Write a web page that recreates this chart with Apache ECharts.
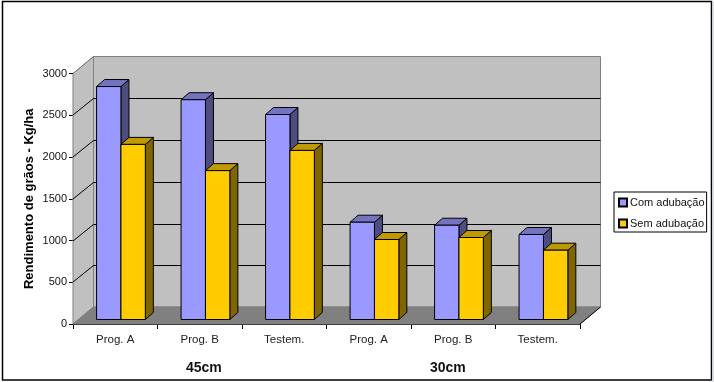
<!DOCTYPE html>
<html>
<head>
<meta charset="utf-8">
<style>html,body{margin:0;padding:0;background:#fff;overflow:hidden}#c{width:714px;height:382px}</style>
<script src="https://cdn.jsdelivr.net/npm/echarts@6/dist/echarts.min.js"></script>
</head>
<body>
<div id="c"></div>
<script>
const categories = ['Prog. A','Prog. B','Testem.','Prog. A','Prog. B','Testem.'];
const comAdubacao = [2790,2632,2455,1165,1129,1018];
const semAdubacao = [2097,1783,2025,958,982,830];
const yTicks = [0,500,1000,1500,2000,2500,3000];
const groupLabels = ['45cm','30cm'];
const seriesNames = ['Com adubação','Sem adubação'];
const yTitle = 'Rendimento de grãos - Kg/ha';

const FONT = '"Liberation Sans", Arial, sans-serif';
const WALL_DX = 20.5, WALL_DY = -17;      // depth of the 3D box
const BAR_DX = 8, BAR_DY = -7;            // depth of a bar
const BAR_SHIFT_X = 5.7, BAR_SHIFT_Y = -4.5;
const BAR_FRAC = 0.2885;

function wallItem(params, api) {
  if (params.dataIndex !== 0) return {type:'group',children:[]};
  const cs = params.coordSys;
  const x0 = cs.x, x1 = cs.x + cs.width;
  const y0 = api.coord([0, 0])[1], yTop = api.coord([0, yTicks[yTicks.length-1]])[1];
  const d = (x,y)=>[x+WALL_DX,y+WALL_DY];
  const wallStyle = {fill:'#c0c0c0',stroke:'#808080',lineWidth:1};
  const children = [
    {type:'polygon',shape:{points:[[x0,y0],[x0,yTop],d(x0,yTop),d(x0,y0)]},style:wallStyle},
    {type:'polygon',shape:{points:[d(x0,yTop),d(x1,yTop),d(x1,y0),d(x0,y0)]},style:wallStyle},
    {type:'polygon',shape:{points:[[x0,y0],d(x0,y0),d(x1,y0),[x1,y0]]},style:{fill:'#808080',stroke:'#808080',lineWidth:1}}
  ];
  yTicks.forEach(t=>{
    if (t===0 || t===yTicks[yTicks.length-1]) return;
    const y = Math.round(api.coord([0,t])[1]);
    children.push({type:'polyline',shape:{points:[[x0,y],[x0+WALL_DX,y+WALL_DY+0.5],[x1+WALL_DX,y+WALL_DY+0.5]]},
      style:{fill:null,stroke:'#000',lineWidth:1}});
  });
  children.push({type:'line',shape:{x1:x1,y1:y0,x2:x1+WALL_DX,y2:y0+WALL_DY},style:{stroke:'#000',lineWidth:1}});
  children.push({type:'line',shape:{x1:x0,y1:yTop,x2:x0+WALL_DX,y2:yTop+WALL_DY},style:{stroke:'#808080',lineWidth:1}});
  return {type:'group',children};
}

function barItem(side, front, top, dark) {
  return function(params, api) {
    const cat = api.value(0), val = api.value(1);
    const band = api.size([1,0])[0];
    const w = band*BAR_FRAC;
    const base = api.coord([cat,0]), tp = api.coord([cat,val]);
    const cx = base[0]+BAR_SHIFT_X;
    const xa = side===0 ? cx-w : cx, xb = xa+w;
    const yb = base[1]+BAR_SHIFT_Y, yt = tp[1]+BAR_SHIFT_Y;
    const line = {stroke:'#000',lineWidth:1,lineJoin:'round'};
    return {type:'group',children:[
      {type:'polygon',shape:{points:[[xb,yt],[xb+BAR_DX,yt+BAR_DY],[xb+BAR_DX,yb+BAR_DY],[xb,yb]]},style:Object.assign({fill:dark},line)},
      {type:'polygon',shape:{points:[[xa,yt],[xa+BAR_DX,yt+BAR_DY],[xb+BAR_DX,yt+BAR_DY],[xb,yt]]},style:Object.assign({fill:top},line)},
      {type:'rect',shape:{x:xa,y:yt,width:w,height:yb-yt},style:Object.assign({fill:front},line)}
    ]};
  };
}

const chart = echarts.init(document.getElementById('c'),null,{renderer:'canvas'});
chart.setOption({
  animation:false,
  backgroundColor:'#fff',
  grid:{left:73,top:73.5,width:507,height:250.5,containLabel:false},
  xAxis:{type:'category',data:categories,
    axisLine:{lineStyle:{color:'#000',width:1}},
    axisTick:{show:true,alignWithLabel:false,length:5,lineStyle:{color:'#000'}},
    axisLabel:{color:'#222',fontFamily:FONT,fontSize:11.5,margin:10,interval:0},
    splitLine:{show:false}},
  yAxis:{type:'value',min:0,max:3000,interval:500,
    axisLine:{show:true,lineStyle:{color:'#000',width:1}},
    axisTick:{show:true,length:4,lineStyle:{color:'#000'}},
    axisLabel:{color:'#111',fontFamily:FONT,fontSize:11,margin:6,formatter:v=>String(v)},
    splitLine:{show:false},
    name:yTitle,nameLocation:'middle',nameGap:37,nameMoveOverlap:false,
    nameTextStyle:{color:'#000',fontFamily:FONT,fontSize:13,fontWeight:'bold'}},
  legend:{orient:'vertical',left:614,top:192,padding:[4,2,2,4],itemGap:8,itemWidth:8,itemHeight:8,
    borderColor:'#000',borderWidth:1,backgroundColor:'#fff',
    textStyle:{color:'#111',fontFamily:FONT,fontSize:11,lineHeight:13,padding:[0,0,0,-2]},
    data:seriesNames.map(n=>({name:n,icon:'rect'}))},
  graphic:[
    {type:'rect',silent:true,z:-1,shape:{x:2.5,y:1.5,width:709,height:378.5},style:{fill:null,stroke:'#000',lineWidth:1.5}},
    {type:'rect',silent:true,z:-1,shape:{x:712.5,y:2,width:2,height:380},style:{fill:'#dfe3ee'}},
    {type:'text',left:186,top:361,style:{text:groupLabels[0],fill:'#111',font:'bold 14px '+FONT}},
    {type:'text',left:430,top:361,style:{text:groupLabels[1],fill:'#111',font:'bold 14px '+FONT}}
  ],
  series:[
    {type:'custom',name:'wall',silent:true,z:1,renderItem:wallItem,data:[[0,0]],encode:{x:0,y:1}},
    {type:'custom',name:seriesNames[0],z:2,renderItem:barItem(0,'#9999ff','#7373bf','#4d4d80'),
     itemStyle:{color:'#9999ff',borderColor:'#000',borderWidth:1},
     data:comAdubacao.map((v,i)=>[i,v]),encode:{x:0,y:1}},
    {type:'custom',name:seriesNames[1],z:3,renderItem:barItem(1,'#ffcc00','#bf9900','#806600'),
     itemStyle:{color:'#ffcc00',borderColor:'#000',borderWidth:1},
     data:semAdubacao.map((v,i)=>[i,v]),encode:{x:0,y:1}}
  ]
});
</script>
</body>
</html>
